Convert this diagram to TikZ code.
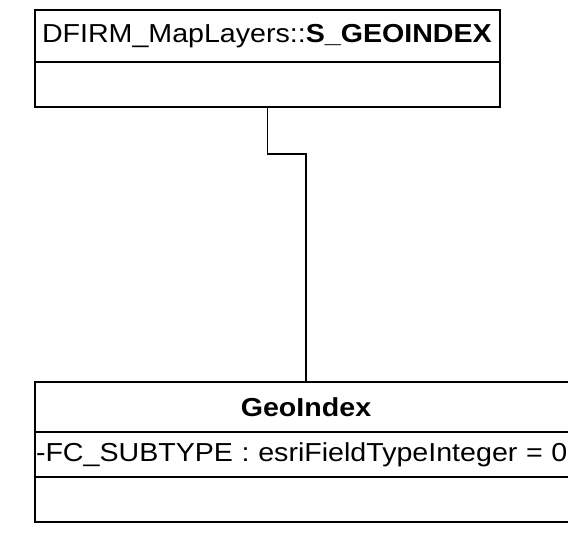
\documentclass[tikz,border=0pt]{standalone}
\usepackage{fontspec}
\setmainfont{Liberation Sans}[FakeStretch=1.1]
\usetikzlibrary{positioning}

\begin{document}
\begin{tikzpicture}[x=1pt,y=1pt,
  classrow/.style={draw,line width=1.9pt,rectangle,outer sep=0pt,inner ysep=0pt,
    font=\fontsize{26}{30}\selectfont,align=left}]
  \useasboundingbox (0,0) rectangle (568,-533);
  % upper class
  \node (sgeoName) [classrow,anchor=north west,text width=451pt,inner xsep=7pt,minimum height=52pt]
    at (35,-10) {DFIRM\_MapLayers::\textbf{S\_GEOINDEX}};
  \node (sgeoOps) [classrow,below=0pt of sgeoName,text width=451pt,inner xsep=7pt,minimum height=45pt] {};
  % lower class
  \node (geoName) [classrow,anchor=north west,text width=528pt,inner xsep=7pt,minimum height=50pt,align=center]
    at (35,-382) {\textbf{GeoIndex}};
  \node (geoAttr) [classrow,below=0pt of geoName,text width=540pt,inner xsep=1pt,minimum height=45pt]
    {-FC\_SUBTYPE : esriFieldTypeInteger = 0};
  \node (geoOps) [classrow,below=0pt of geoAttr,text width=540pt,inner xsep=1pt,minimum height=45pt] {};
  % link
  \draw[line width=1.9pt] (sgeoOps.south) -- ++(0,-47) -| (geoName.north);
\end{tikzpicture}
\end{document}
